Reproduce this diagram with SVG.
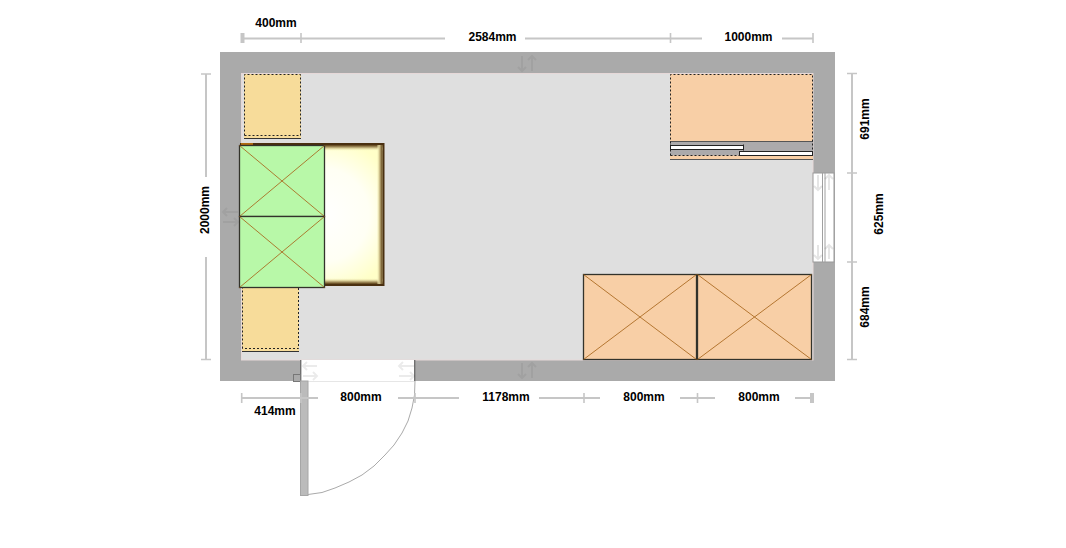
<svg xmlns="http://www.w3.org/2000/svg" width="1066" height="548" viewBox="0 0 1066 548">
<style>
text{font-family:"Liberation Sans",Arial,sans-serif;font-size:12px;font-weight:bold;fill:#000;text-anchor:middle}
.dim{stroke:#c6c6c6;stroke-width:2;fill:none}
.tick{stroke:#c6c6c6;stroke-width:1.6;fill:none}
.end{stroke:#c6c6c6;stroke-width:4;fill:none}
.box{stroke:#33332b;stroke-width:1.3}
.x{stroke:#a8661c;stroke-width:1;opacity:.85;fill:none}
.dash{fill:none;stroke:#222;stroke-width:1;stroke-dasharray:2 2}
.cab{fill:#f7dc9a}
.orange{fill:#f8cfa6}
.dir{fill:none;stroke:#000;stroke-opacity:.05;stroke-width:2}
.dirw{fill:none;stroke:#000;stroke-opacity:.1;stroke-width:2}
</style>
<defs>
<radialGradient id="bedg" gradientUnits="userSpaceOnUse" cx="322" cy="215" r="78">
<stop offset="0" stop-color="#fff"/><stop offset=".6" stop-color="#fffff4"/><stop offset="1" stop-color="#ffffc8"/>
</radialGradient>
<linearGradient id="edgeR" x1="0" x2="1" y1="0" y2="0"><stop offset="0" stop-color="#ffffc8" stop-opacity="0"/><stop offset=".45" stop-color="#d8cc96"/><stop offset="1" stop-color="#5a3d14"/></linearGradient>
<linearGradient id="edgeB" x1="0" x2="0" y1="0" y2="1"><stop offset="0" stop-color="#ffffc8" stop-opacity="0"/><stop offset=".45" stop-color="#d8cc96"/><stop offset="1" stop-color="#5a3d14"/></linearGradient>
<linearGradient id="edgeT" x1="0" x2="0" y1="1" y2="0"><stop offset="0" stop-color="#ffffc8" stop-opacity="0"/><stop offset=".45" stop-color="#d8cc96"/><stop offset="1" stop-color="#5a3d14"/></linearGradient>
</defs>
<rect width="1066" height="548" fill="#fff"/>
<g id="room">
<rect x="220" y="52" width="615" height="329" fill="#aaaaaa"/>
<rect x="241.500" y="73.500" width="571.500" height="286.500" fill="#dfdfdf" stroke="#e6d8d8" stroke-width="1"/>
<path class="dir" d="M522 71V56M518 67l4 4 4-4M532 56V71M528 60l4-4 4 4"/>
<path class="dir" d="M522 378V363M518 374l4 4 4-4M532 363V378M528 367l4-4 4 4"/>
<path class="dir" d="M238 212H223M227 208l-4 4 4 4M223 222H238M234 218l4 4-4 4"/>
</g>
<g id="door">
<rect x="301" y="360" width="114" height="21" fill="#fff"/>
<path d="M300.700 360V381M414.700 360V381" stroke="#707070" stroke-width="1.4"/>
<path d="M301 381.500H415" stroke="#e6e6e6" stroke-width="1"/>
<path class="dirw" style="stroke-opacity:.08" d="M317 366H303M307 362l-4 4 4 4M303 376H317M313 372l4 4-4 4M414 366H399M403 362l-4 4 4 4M399 376H414M410 372l4 4-4 4"/>
<rect x="293.500" y="374.500" width="7" height="7" fill="#aaa" stroke="#777" stroke-width="1"/>
<rect x="300.500" y="381" width="7.500" height="114.500" fill="#bbb" stroke="#a6a6a6" stroke-width="1"/>
<polyline points="308,494.500 322,492.500 335,488 349,482 362,475 374,466 385,455 394,445 402,433 408,421 412,408 414.500,395 415,381" fill="none" stroke="#aaa" stroke-width="1"/>
</g>
<g id="window">
<rect x="813" y="173" width="21" height="89" fill="#fff" stroke="#999" stroke-width="1"/>
<path d="M822.500 173V262M825 173V262" stroke="#a0a0a0" stroke-width="1"/>
<path class="dirw" d="M818 190V175M814 186l4 4 4-4M829 175V190M825 179l4-4 4 4M818 259V245M814 255l4 4 4-4M829 245V259M825 249l4-4 4 4"/>
</g>
<g id="cabinet-top-left">
<rect class="cab" x="244" y="74" width="57" height="65"/>
<path class="dash" d="M244.500 135.500V74.500H300.500V135.500H244.500"/>
<path d="M244 138.500H301" stroke="#333" stroke-width="1"/>
</g>
<g id="cabinet-bottom-left">
<rect class="cab" x="242" y="288" width="57" height="64"/>
<path class="dash" d="M242.500 348.500V288M298.500 288V348.500H242.500"/>
<path d="M242 351.500H299" stroke="#333" stroke-width="1"/>
</g>
<g id="bed">
<rect x="240" y="143" width="144.500" height="143" fill="#4a3010"/>
<rect x="325" y="145" width="57.500" height="139" fill="url(#bedg)"/>
<rect x="325" y="145" width="57.500" height="6" fill="url(#edgeT)"/>
<rect x="325" y="278" width="57.500" height="6" fill="url(#edgeB)"/>
<rect x="376.500" y="145" width="6" height="139" fill="url(#edgeR)"/>
<rect x="241" y="143" width="12" height="2" fill="#b06a10"/>
</g>
<g id="box-green-1">
<rect class="box" x="239.500" y="145.500" width="85" height="71" fill="#b8f8a8"/>
<path class="x" d="M239.500 145.500L324.500 216.500M324.500 145.500L239.500 216.500"/>
</g>
<g id="box-green-2">
<rect class="box" x="239.500" y="216.500" width="85" height="71" fill="#b8f8a8"/>
<path class="x" d="M239.500 216.500L324.500 287.500M324.500 216.500L239.500 287.500"/>
</g>
<g id="wardrobe">
<rect class="orange" x="670" y="74" width="143" height="86"/>
<rect x="670" y="141.500" width="143" height="14" fill="#acaaab"/>
<path d="M670 141.500H813M670 159.500H813" stroke="#555" stroke-width="1"/>
<rect x="670.500" y="145.500" width="73" height="4" fill="#fff" stroke="#222" stroke-width="1"/>
<path d="M670.500 144.500V150.500M743.500 144.500V150.500" stroke="#222" stroke-width="1"/>
<rect x="739.500" y="151.500" width="73" height="4" fill="#fff" stroke="#222" stroke-width="1"/>
<path class="dash" d="M670.500 155.500V74.500H812.500V155.500M670.500 155.500H739"/>
</g>
<g id="box-orange-1">
<rect class="box orange" x="583.500" y="274.500" width="113" height="85"/>
<path class="x" d="M583.500 274.500L696.500 359.500M696.500 274.500L583.500 359.500"/>
</g>
<g id="box-orange-2">
<rect class="box orange" x="697.500" y="274.500" width="114" height="85"/>
<path class="x" d="M697.500 274.500L811.500 359.500M811.500 274.500L697.500 359.500"/>
</g>
<g id="connectors">
<path class="dim" d="M242 38.500H445M525 38.500H702M782 38.500H813"/>
<path class="end" d="M242.500 33V43"/>
<path class="tick" d="M301 33V43M670.500 33V43M813 33V43"/>
<path class="dim" d="M206 74V177M206 257V360"/>
<path class="tick" d="M201 74H211M201 359.500H211"/>
<path class="dim" d="M852 74V360"/>
<path class="tick" d="M847 73.500H857M847 173H857M847 262H857M847 359.500H857"/>
<path class="dim" d="M242 398H318M398 398H459M539 398H600M680 398H715M795 398H812"/>
<path class="end" d="M812 393V403"/>
<path class="tick" d="M241.700 393V403M301 393V403M415 393V403M584 393V403M697.500 393V403"/>
</g>
<g id="labels">
<text x="276" y="27">400mm</text>
<text x="492.500" y="41">2584mm</text>
<text x="748.500" y="41">1000mm</text>
<text x="361" y="401">800mm</text>
<text x="506" y="401">1178mm</text>
<text x="644" y="401">800mm</text>
<text x="759" y="401">800mm</text>
<text x="275" y="415">414mm</text>
<text transform="translate(209 210) rotate(-90)">2000mm</text>
<text transform="translate(869 119) rotate(-90)">691mm</text>
<text transform="translate(883 214) rotate(-90)">625mm</text>
<text transform="translate(869 307) rotate(-90)">684mm</text>
</g>
</svg>
